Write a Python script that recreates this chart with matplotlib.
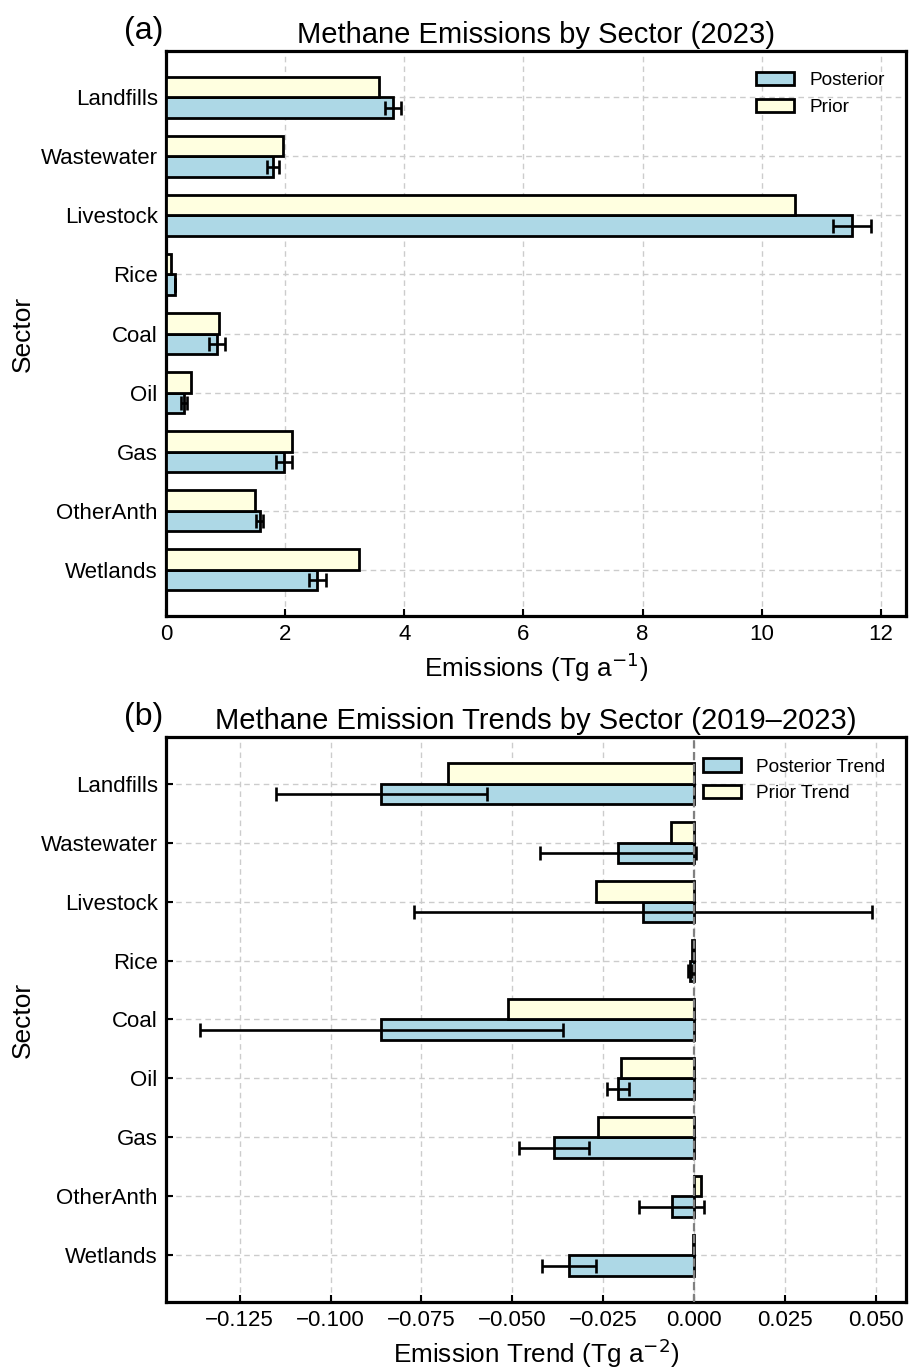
import numpy as np
import matplotlib
matplotlib.use("Agg")
import matplotlib.pyplot as plt

plt.rcParams['font.family'] = ['Liberation Sans', 'DejaVu Sans']

# Sectors, listed top to bottom
sectors = ["Landfills", "Wastewater", "Livestock", "Rice", "Coal",
           "Oil", "Gas", "OtherAnth", "Wetlands"]

# 2023 emissions (Tg a^-1)
posterior = [3.81, 1.79, 11.51, 0.15, 0.86, 0.31, 1.98, 1.57, 2.54]
posterior_err = [0.13, 0.10, 0.32, 0.004, 0.13, 0.05, 0.14, 0.055, 0.14]
prior = [3.57, 1.97, 10.56, 0.09, 0.89, 0.42, 2.12, 1.49, 3.24]

# 2019-2023 trends (Tg a^-2)
posterior_trend = [-0.086, -0.021, -0.014, -0.0012, -0.086, -0.021,
                   -0.0385, -0.0062, -0.0344]
posterior_trend_err = [0.029, 0.0215, 0.063, 0.0006, 0.050, 0.0031,
                       0.0097, 0.009, 0.0074]
prior_trend = [-0.0677, -0.0064, -0.0271, -0.0007, -0.0511, -0.0201,
               -0.0265, 0.0018, -0.0003]

BLUE = "#add8e6"
YELLOW = "#ffffe0"

fig = plt.figure(figsize=(9.09, 13.68), dpi=100)
ax1 = fig.add_axes([0.1826, 0.5497, 0.8141, 0.4130])
ax2 = fig.add_axes([0.1826, 0.04846, 0.8141, 0.4126])

y = np.arange(len(sectors))
h = 0.35
bar_kw = dict(edgecolor="black", linewidth=2.0, zorder=3)
err_kw = dict(ecolor="black", elinewidth=1.9, capsize=5, capthick=1.9)


def style_axes(ax):
    ax.set_axisbelow(True)
    ax.grid(True, linestyle=(0, (4, 3)), color="#cccccc", linewidth=1.0)
    for sp in ax.spines.values():
        sp.set_linewidth(2.3)
    ax.tick_params(direction="in", length=5, width=1.5, labelsize=16,
                   pad=6)
    ax.set_yticks(y)
    ax.set_yticklabels(sectors)
    ax.invert_yaxis()
    ax.set_ylabel("Sector", fontsize=19)


legend_kw = dict(loc="upper right", frameon=False, fontsize=13.7,
                 borderaxespad=0.7)

# Panel (a): sector emissions
ax1.barh(y + h / 2, posterior, h, xerr=posterior_err, color=BLUE,
         label="Posterior", error_kw=err_kw, **bar_kw)
ax1.barh(y - h / 2, prior, h, color=YELLOW, label="Prior", **bar_kw)
style_axes(ax1)
ax1.set_xlabel("Emissions (Tg a$^{-1}$)", fontsize=18.8)
ax1.set_title("Methane Emissions by Sector (2023)", fontsize=21, pad=6)
ax1.legend(**legend_kw)
ax1.text(-0.004, 1.009, "(a)", transform=ax1.transAxes, ha="right",
         va="bottom", fontsize=23)

# Panel (b): sector trends
ax2.barh(y + h / 2, posterior_trend, h, xerr=posterior_trend_err,
         color=BLUE, label="Posterior Trend", error_kw=err_kw, **bar_kw)
ax2.barh(y - h / 2, prior_trend, h, color=YELLOW, label="Prior Trend",
         **bar_kw)
ax2.axvline(0, color="gray", linestyle="--", linewidth=1.6, zorder=4)
style_axes(ax2)
ax2.set_xticks([-0.125, -0.1, -0.075, -0.05, -0.025, 0.0, 0.025, 0.05])
ax2.set_xticklabels(["\u22120.125", "\u22120.100", "\u22120.075",
                     "\u22120.050", "\u22120.025", "0.000", "0.025",
                     "0.050"])
ax2.set_xlabel("Emission Trend (Tg a$^{-2}$)", fontsize=18.8)
ax2.set_title("Methane Emission Trends by Sector (2019\u20132023)",
              fontsize=21, pad=6)
ax2.legend(**legend_kw)
ax2.text(-0.004, 1.009, "(b)", transform=ax2.transAxes, ha="right",
         va="bottom", fontsize=23)

fig.savefig("out.png", dpi=100)
